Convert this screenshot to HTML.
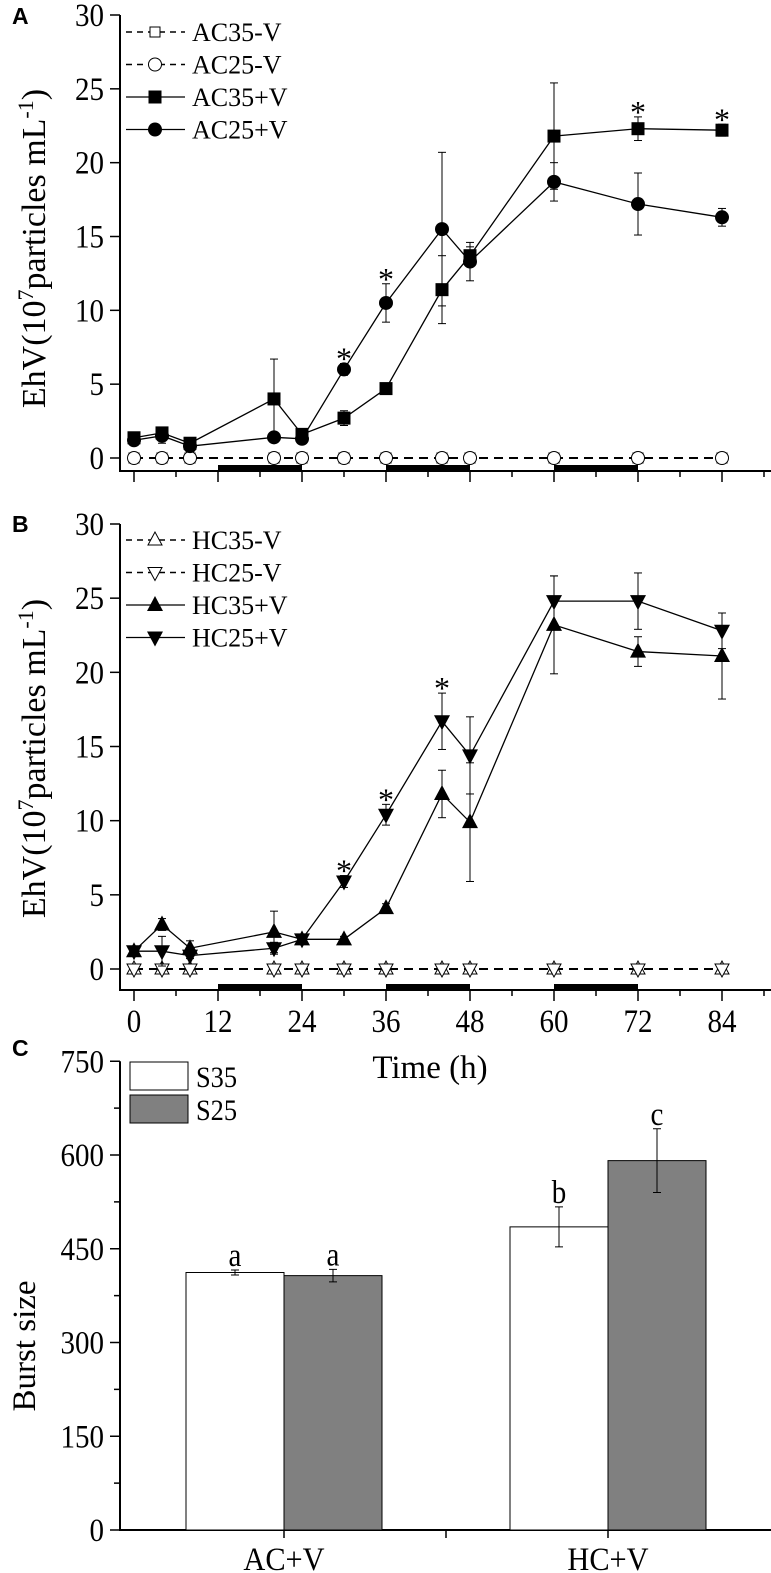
<!DOCTYPE html>
<html><head><meta charset="utf-8"><style>
html,body{margin:0;padding:0;background:#fff;}
svg{display:block;font-family:"Liberation Serif",serif;}
</style></head><body>
<svg id="fig" width="771" height="1573" viewBox="0 0 771 1573" xmlns="http://www.w3.org/2000/svg"></svg>
<script>
const times=[0,4,8,20,24,30,36,44,48,60,72,84];
const ac35=[1.37,1.7,1.0,4.0,1.6,2.7,4.7,11.4,13.7,21.8,22.3,22.2];
const ac35err=[0.2,0.3,0.2,2.7,0.2,0.5,0.2,2.3,0.6,3.6,0.8,0.4];
const ac25=[1.2,1.5,0.8,1.4,1.3,6.0,10.5,15.5,13.3,18.7,17.2,16.3];
const ac25err=[0.2,0.5,0.2,0.2,0.2,0.4,1.3,5.2,1.3,1.3,2.1,0.6];
const hc35=[1.2,3.0,1.4,2.5,2.0,2.0,4.1,11.8,9.9,23.2,21.4,21.1];
const hc35err=[0.2,0.4,0.5,1.4,0.2,0.2,0.3,1.6,4.0,3.3,1.0,2.9];
const hc25=[1.2,1.2,0.9,1.4,2.0,5.9,10.4,16.7,14.4,24.8,24.8,22.8];
const hc25err=[0.2,1.0,0.2,0.4,0.2,0.4,0.7,1.9,2.6,1.7,1.9,1.2];
const ctrl=[0,0,0,0,0,0,0,0,0,0,0,0];
const starsA35=[72,84];
const starsA25=[30,36];
const starsB25=[30,36,44];
const yTicks=[0,5,10,15,20,25,30];
const xTicks=[0,12,24,36,48,60,72,84];
const darkPeriods=[[12,24],[36,48],[60,72]];
const barGroups=["AC+V","HC+V"];
const s35=[412,485];
const s35err=[4,32];
const s25=[407,591];
const s25err=[10,51];
const barLetters35=["a","b"];
const barLetters25=["a","c"];
const cTicks=[0,150,300,450,600,750];

const NS="http://www.w3.org/2000/svg";
const svg=document.getElementById('fig');
function el(tag,attrs,parent){const e=document.createElementNS(NS,tag);for(const k in attrs)e.setAttribute(k,attrs[k]);(parent||svg).appendChild(e);return e;}
function txt(s,attrs,parent){const t=el('text',attrs,parent);t.textContent=s;return t;}
function ctxt(s,x,y,size,anchor,parent,sx){
  const t=el('text',{x:0,y:0,'font-size':size,'text-anchor':anchor,transform:`translate(${x},${y}) scale(${sx||0.88},1)`},parent);
  t.textContent=s;return t;
}

const X=h=>134+7*h;
function panel(name,y0,y30,axOff,showLabels){
  const g=el('g',{});
  
  
  const Y=v=>y0-(y0-y30)*v/30;
  const base=y0+axOff;
  el('line',{x1:120,y1:y30,x2:120,y2:base,stroke:'#000','stroke-width':2},g);
  el('line',{x1:119,y1:base,x2:771,y2:base,stroke:'#000','stroke-width':2},g);
  yTicks.forEach(v=>{
    el('line',{x1:110,y1:Y(v),x2:120,y2:Y(v),stroke:'#000','stroke-width':1.5},g);
    const t=ctxt(String(v),104,Y(v)+11,33,'end',g);
    
    
  });
  for(let h=0;h<=90;h+=6){
    const major=h%12===0;
    el('line',{x1:X(h),y1:base,x2:X(h),y2:base+(major?11:6),stroke:'#000','stroke-width':1.5},g);
  }
  if(showLabels){xTicks.forEach(h=>{
    const t=ctxt(String(h),X(h),base+42,33,'middle',g);
    
    
  });}
  darkPeriods.forEach(p=>{
    const r=el('rect',{x:X(p[0]),y:base-6,width:X(p[1])-X(p[0]),height:6,fill:'#000'},g);
    
    
  });
  const cy=(y0+y30)/2+12;
  const yt=el('text',{x:0,y:0,'font-size':34,'text-anchor':'middle',transform:`translate(45,${cy}) rotate(-90)`},g);
  
  
  yt.innerHTML='EhV(10<tspan dy="-12" font-size="22">7</tspan><tspan dy="12">particles mL</tspan><tspan dy="-12" font-size="22">-1</tspan><tspan dy="12">)</tspan>';
  return {g,Y};
}
function marker(g,type,x,y){
  const s=6.5;
  let m;
  if(type==='sq')m=el('rect',{x:x-s,y:y-s,width:2*s,height:2*s,fill:'#000'},g);
  else if(type==='osq')m=el('rect',{x:x-5,y:y-5,width:10,height:10,fill:'#fff',stroke:'#000','stroke-width':1},g);
  else if(type==='ci')m=el('circle',{cx:x,cy:y,r:7,fill:'#000'},g);
  else if(type==='oci')m=el('circle',{cx:x,cy:y,r:6.5,fill:'#fff',stroke:'#000','stroke-width':1},g);
  else if(type==='tu')m=el('polygon',{points:`${x},${y-9} ${x-8},${y+6} ${x+8},${y+6}`,fill:'#000'},g);
  else if(type==='td')m=el('polygon',{points:`${x},${y+9} ${x-8},${y-6} ${x+8},${y-6}`,fill:'#000'},g);
  else if(type==='otu')m=el('polygon',{points:`${x},${y-8} ${x-7},${y+5} ${x+7},${y+5}`,fill:'#fff',stroke:'#000','stroke-width':1},g);
  else if(type==='otd')m=el('polygon',{points:`${x},${y+8} ${x-7},${y-5} ${x+7},${y-5}`,fill:'#fff',stroke:'#000','stroke-width':1},g);
  
  
}
function series(p,name,vals,errs,mk,dashed){
  const g=el('g',{},p.g);
  
  
  const pts=times.map((t,i)=>`${X(t)},${p.Y(vals[i])}`).join(' ');
  el('polyline',{points:pts,fill:'none',stroke:'#000','stroke-width':dashed?2:1.3,'stroke-dasharray':dashed?'9 6':'none'},g);
  if(errs)times.forEach((t,i)=>{
    const x=X(t),a=p.Y(vals[i]+errs[i]),b=p.Y(vals[i]-errs[i]);
    el('line',{x1:x,y1:a,x2:x,y2:b,stroke:'#000','stroke-width':1},g);
    el('line',{x1:x-4,y1:a,x2:x+4,y2:a,stroke:'#000','stroke-width':1},g);
    el('line',{x1:x-4,y1:b,x2:x+4,y2:b,stroke:'#000','stroke-width':1},g);
  });
  times.forEach((t,i)=>marker(g,mk,X(t),p.Y(vals[i])));
}
function stars(p,list,vals,errs){
  list.forEach(h=>{const i=times.indexOf(h);
    const s=txt('*',{x:X(h),y:p.Y(vals[i]+errs[i])+6,'font-size':32,'text-anchor':'middle'},p.g);
    
    });
}
function legend(p,items,y){
  items.forEach((it,k)=>{
    const g=el('g',{},p.g);
    
    
    const yy=y+k*32.5;
    el('line',{x1:126,y1:yy,x2:185,y2:yy,stroke:'#000','stroke-width':it[2]?1.5:1.3,'stroke-dasharray':it[2]?'6 5':'none'},g);
    marker(g,it[1],155,yy);
    txt(it[0],{x:192,y:yy+9,'font-size':26},g);
  });
}
const A=panel('panel-a-chart',458,15,13,false);
series(A,'series-ac35-minus-v',ctrl,null,'osq',true);
series(A,'series-ac25-minus-v',ctrl,null,'oci',true);
series(A,'series-ac35-plus-v',ac35,ac35err,'sq',false);
series(A,'series-ac25-plus-v',ac25,ac25err,'ci',false);
stars(A,starsA35,ac35,ac35err);stars(A,starsA25,ac25,ac25err);
legend(A,[['AC35-V','osq',1],['AC25-V','oci',1],['AC35+V','sq',0],['AC25+V','ci',0]],32);

const B=panel('panel-b-chart',969,524,21,true);
series(B,'series-hc35-minus-v',ctrl,null,'otu',true);
series(B,'series-hc25-minus-v',ctrl,null,'otd',true);
series(B,'series-hc35-plus-v',hc35,hc35err,'tu',false);
series(B,'series-hc25-plus-v',hc25,hc25err,'td',false);
stars(B,starsB25,hc25,hc25err);
legend(B,[['HC35-V','otu',1],['HC25-V','otd',1],['HC35+V','tu',0],['HC25+V','td',0]],540);
const xt=txt('Time (h)',{x:430,y:1078,'font-size':33,'text-anchor':'middle'});



const gC=el('g',{});


const CY=v=>1530-v*(1530-1155)/600;
el('line',{x1:120,y1:CY(750),x2:120,y2:1531,stroke:'#000','stroke-width':2},gC);
el('line',{x1:119,y1:1530,x2:771,y2:1530,stroke:'#000','stroke-width':2},gC);
for(let v=0;v<=750;v+=75){
  el('line',{x1:v%150===0?110:114,y1:CY(v),x2:120,y2:CY(v),stroke:'#000','stroke-width':1.5},gC);
}
cTicks.forEach(v=>{const t=ctxt(String(v),104,CY(v)+11,33,'end',gC);
  });
[284,446,608].forEach(x=>el('line',{x1:x,y1:1530,x2:x,y2:1538,stroke:'#000','stroke-width':1.5},gC));
const gx=[284,608];
barGroups.forEach((name,i)=>{
  const t=ctxt(name,gx[i],1570,33,'middle',gC,0.92);
  
  [[s35,s35err,'#fff',-98,barLetters35,'bar-s35'],[s25,s25err,'#808080',0,barLetters25,'bar-s25']].forEach(b=>{
    const v=b[0][i],e=b[1][i],x0=gx[i]+b[3];
    const r=el('rect',{x:x0,y:CY(v),width:98,height:1530-CY(v),fill:b[2],stroke:'#000','stroke-width':1},gC);
    
    
    const cx=x0+49;
    el('line',{x1:cx,y1:CY(v+e),x2:cx,y2:CY(v-e),stroke:'#000','stroke-width':1},gC);
    el('line',{x1:cx-4,y1:CY(v+e),x2:cx+4,y2:CY(v+e),stroke:'#000','stroke-width':1},gC);
    el('line',{x1:cx-4,y1:CY(v-e),x2:cx+4,y2:CY(v-e),stroke:'#000','stroke-width':1},gC);
    const l=ctxt(b[4][i],cx,CY(v+e)-4,33,'middle',gC);
    
  });
});
[['S35','#fff',1062],['S25','#808080',1095]].forEach(it=>{
  const g=el('g',{},gC);
  
  
  el('rect',{x:130,y:it[2],width:58,height:28,fill:it[1],stroke:'#000','stroke-width':1},g);
  ctxt(it[0],196,it[2]+25,30,'start',g);
});
const bt=txt('Burst size',{x:0,y:0,'font-size':33,'text-anchor':'middle',transform:'translate(35,1346) rotate(-90)'},gC);


[['A',12,24],['B',12,532],['C',12,1056]].forEach(l=>{
  const t=txt(l[0],{x:l[1],y:l[2],'font-size':23,'font-weight':'bold','font-family':'Liberation Sans, sans-serif'});
  
  
});
</script>
</body></html>
